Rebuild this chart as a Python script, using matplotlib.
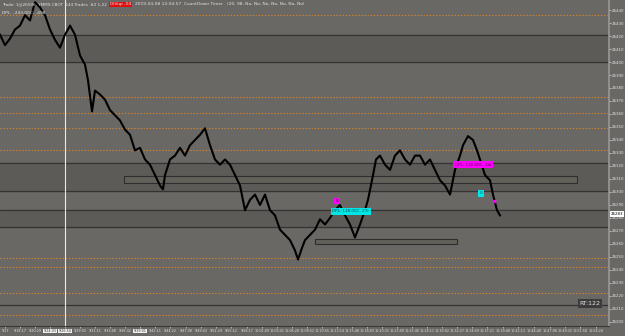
import numpy as np
import matplotlib
matplotlib.use("Agg")
import matplotlib.pyplot as plt
from matplotlib.patches import Rectangle

# price path (bar index, price)
bars = [0, 5, 10, 15, 20, 25, 30, 35, 40, 45, 50, 55, 60, 65, 70, 75, 80, 85, 88, 92,
        95, 100, 105, 110, 115, 120, 125, 130, 135, 140, 145, 150, 155, 160, 163, 165,
        170, 175, 180, 185, 190, 195, 200, 205, 210, 215, 220, 225, 230, 235, 240, 245,
        250, 255, 260, 265, 270, 275, 280, 285, 290, 295, 298, 302, 305, 310, 315, 320,
        325, 330, 335, 340, 345, 350, 355, 360, 365, 368, 372, 376, 380, 385, 390, 395,
        400, 405, 410, 415, 420, 425, 430, 435, 440, 445, 450, 455, 460, 463, 468, 473,
        477, 480, 485, 490, 493, 497, 500]
prices = [26421, 26413, 26418, 26425, 26428, 26436, 26432, 26446, 26442, 26436, 26425,
          26417, 26411, 26421, 26428, 26421, 26405, 26398, 26386, 26362, 26378, 26375,
          26371, 26363, 26359, 26355, 26348, 26344, 26332, 26334, 26325, 26321, 26313,
          26305, 26302, 26313, 26325, 26328, 26334, 26328, 26336, 26340, 26344, 26349,
          26336, 26325, 26321, 26325, 26321, 26313, 26305, 26286, 26294, 26298, 26290,
          26298, 26286, 26282, 26271, 26267, 26263, 26255, 26248, 26257, 26263, 26267,
          26271, 26279, 26275, 26280, 26286, 26290, 26282, 26275, 26265, 26275, 26286,
          26294, 26309, 26325, 26328, 26321, 26317, 26328, 26332, 26325, 26321, 26328,
          26328, 26321, 26325, 26317, 26309, 26305, 26298, 26317, 26328, 26336, 26343,
          26340, 26332, 26325, 26313, 26309, 26298, 26286, 26282]

orange_levels = [26436, 26373, 26361, 26349, 26332, 26249, 26242, 26222, 26205]
zones = [(26400, 26421), (26301, 26322), (26273, 26286)]
dark_levels = [26213]
boxes = [(124, 577, 26307, 26312), (315, 457, 26260, 26264)]

price_ticks = list(range(26200, 26450, 10))
time_ticks = [5, 20, 35, 50, 65, 80, 95, 110, 125, 140, 155, 170, 186, 201, 216, 231,
              247, 262, 277, 292, 307, 322, 337, 352, 367, 382, 397, 412, 427, 442,
              457, 472, 487, 503, 518, 534, 550, 565, 580, 596]
time_labels = ["9:17", "9:18:17", "9:20:29", "9:24:03", "9:26:54", "9:29:03", "9:31:11",
               "9:33:48", "9:36:32", "9:39:01", "9:42:11", "9:44:22", "9:47:08", "9:49:43",
               "9:52:29", "9:55:12", "9:58:17", "10:01:09", "10:03:41", "10:06:28",
               "10:08:52", "10:10:55", "10:13:14", "10:15:48", "10:18:03", "10:20:31",
               "10:23:09", "10:25:40", "10:28:11", "10:30:02", "10:32:27", "10:34:59",
               "10:37:21", "10:39:48", "10:42:13", "10:44:40", "10:47:06", "10:49:32",
               "10:51:58", "10:54:24"]
last_price = 26283
header = ["Trade: 1@26596  YMM9-CBOT  144 Trades  #2 1-22", "DiVup -04",
          "2019-04-08 12:04:57  CountDown Timer   (20, 98, No, No, No, No, No, No, No)"]

BG = "#6a6865"
ZONE = "#5d5b58"
LINE = "#353433"
ORANGE = "#d9822b"
TXT = "#e2e2e2"

fig = plt.figure(figsize=(6.25, 3.36), dpi=100, facecolor=BG)
ax = fig.add_axes([0, 10 / 336, 609 / 625, 326 / 336], facecolor=BG)
ax.set_xlim(0, 609)
ax.set_ylim(26196.9, 26447.7)

for lo, hi in zones:
    ax.axhspan(lo, hi, color=ZONE, zorder=1)
    ax.axhline(lo, color=LINE, lw=0.9, zorder=2)
    ax.axhline(hi, color=LINE, lw=0.9, zorder=2)
for lv in dark_levels:
    ax.axhline(lv, color=LINE, lw=0.9, zorder=2)
for lv in orange_levels:
    ax.axhline(lv, color=ORANGE, lw=0.8, ls=(0, (1.2, 1.6)), zorder=2)
for x0, x1, y0, y1 in boxes:
    ax.add_patch(Rectangle((x0, y0), x1 - x0, y1 - y0, facecolor="#626059",
                           edgecolor="#2e2e2e", lw=0.8, zorder=3))

# cursor line
ax.axvline(65, color="#e8e8e8", lw=0.8, zorder=4)

ax.plot(bars, prices, color="black", lw=1.5, zorder=5)

# trade markers
ax.plot([337, 348], [26293, 26285], color="#9a9a9a", lw=0.5, ls=":", zorder=4)
ax.text(337, 26293, "S", fontsize=3, color="black", ha="center", va="center",
        bbox=dict(boxstyle="square,pad=0.3", fc="#ff00ff", ec="none"), zorder=6)
ax.text(351, 26285, "DPL: 118.00C, 27r", fontsize=3, color="#1a4a4a", ha="center",
        va="center", bbox=dict(boxstyle="square,pad=0.4", fc="#00e5e5", ec="none"), zorder=6)
ax.text(473, 26321, "DPL: 118.00C, 24r", fontsize=3, color="#5a005a", ha="center",
        va="center", bbox=dict(boxstyle="square,pad=0.4", fc="#ff00ff", ec="none"), zorder=6)
ax.text(481, 26299, "0", fontsize=3, color="#1a4a4a", ha="center", va="center",
        bbox=dict(boxstyle="square,pad=0.3", fc="#00e5e5", ec="none"), zorder=6)
ax.plot([494], [26293], marker="s", ms=1.5, color="#ff00ff", zorder=6)

ax.yaxis.tick_right()
ax.set_yticks(price_ticks)
ax.set_yticklabels([str(p) for p in price_ticks])
ax.tick_params(axis="y", colors=TXT, labelsize=2.9, length=1.2, width=0.5, pad=0.8)
ax.set_xticks(time_ticks)
ax.set_xticklabels(time_labels)
ax.tick_params(axis="x", colors=TXT, labelsize=2.4, length=1.2, width=0.5, pad=1)
for i, lab in enumerate(ax.get_xticklabels()):
    if i in (3, 4, 9):
        lab.set_color("#333333")
        lab.set_bbox(dict(boxstyle="square,pad=0.1", fc="#f0f0f0", ec="none"))
for sp in ("top", "left"):
    ax.spines[sp].set_visible(False)
ax.spines["right"].set_color("#9a9896")
ax.spines["right"].set_linewidth(1.2)
ax.spines["bottom"].set_color("#3a3a3a")
ax.spines["bottom"].set_linewidth(0.8)

# last price tag
ax.annotate(str(last_price), xy=(1, last_price), xycoords=("axes fraction", "data"),
            xytext=(1.5, 0), textcoords="offset points", fontsize=2.9, color="black",
            va="center", bbox=dict(boxstyle="square,pad=0.15", fc="white", ec="none"),
            annotation_clip=False, zorder=7)

ax.text(590, 26214, "RT:122", fontsize=4.5, color=TXT, ha="center", va="center",
        bbox=dict(boxstyle="square,pad=0.3", fc="#3c3c3c", ec="none"), zorder=7)

# header texts, laid out one after another
renderer = fig.canvas.get_renderer()
t = fig.text(0.003, 0.993, header[0], fontsize=3.0, color=TXT, ha="left", va="top")
ext = t.get_window_extent(renderer)
t2 = fig.text(ext.x1 + 3, ext.y1, header[1], fontsize=3.2, color=TXT, ha="left", va="top",
              transform=None, bbox=dict(boxstyle="square,pad=0.15", fc="#e01010", ec="none"))
ext2 = t2.get_window_extent(renderer)
fig.text(ext2.x1 + 4, ext.y1, header[2], fontsize=3.2, color=TXT, ha="left", va="top",
         transform=None)
fig.text(0.003, 0.968, "DPL: -243.00C, -498", fontsize=3.2, color=TXT, ha="left", va="top")

fig.savefig("out.png", dpi=100, facecolor=BG)
